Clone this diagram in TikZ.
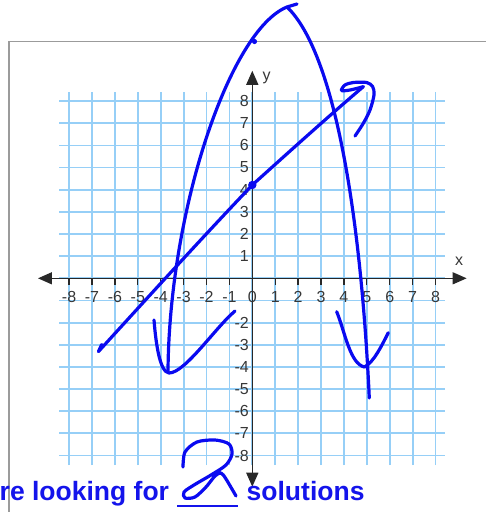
\documentclass[tikz,border=0pt]{standalone}
\usepackage{fontspec}
\setmainfont{Liberation Sans}
\usetikzlibrary{arrows.meta}
\definecolor{gridblue}{RGB}{150,207,247}
\definecolor{ink}{RGB}{10,10,240}
\definecolor{axisgray}{RGB}{40,40,40}
\definecolor{labgray}{RGB}{55,55,55}
\definecolor{framegray}{RGB}{155,155,155}
\definecolor{textblue}{RGB}{20,20,235}
\begin{document}
\begin{tikzpicture}[x=1pt,y=-1pt,
  pen/.style={draw=ink, line width=3.2pt, line cap=round, line join=round},
  gridline/.style={draw=gridblue, line width=1.8pt},
  axis/.style={draw=axisgray, fill=axisgray, line width=1.3pt},
  lab/.style={font=\fontsize{16}{18}\selectfont, text=labgray, inner sep=0pt},
  bigtext/.style={font=\bfseries\fontsize{26.5}{30}\selectfont, text=textblue, inner sep=0pt, anchor=base west}]
\useasboundingbox (0,0) rectangle (486,512);
\clip (0,0) rectangle (486,512);
\fill[white] (0,0) rectangle (486,512);
% frame
\draw[framegray, line width=1.5pt] (9,530) -- (9,41.7) -- (500,41.7);
% graph
\begin{scope}[shift={(252.3pt,-278.3pt)}, x=22.9pt, y=22.15pt]
  \foreach \i in {-8,...,8} {
    \draw[gridline] (\i,-8.43) -- (\i,8.43);
    \draw[gridline] (-8.43,\i) -- (8.43,\i);
  }
  \coordinate (xa) at (-9.36,0);
  \coordinate (xb) at (9.36,0);
  \coordinate (ya) at (0,-9.41);
  \coordinate (yb) at (0,9.37);
  \draw[axis, {Triangle[length=14pt,width=12pt]}-{Triangle[length=14pt,width=12pt]}] (xa) -- (xb);
  \draw[axis, {Triangle[length=14pt,width=12pt]}-{Triangle[length=14pt,width=12pt]}] (ya) -- (yb);
  \foreach \i in {-8,...,-1,1,2,...,8} {
    \draw[axis] (\i,0) -- (\i,-0.28);
  }
  \foreach \i in {-8,...,8} {
    \node[lab] (xl\i) at (\i,-0.83) {\i};
  }
  \foreach \i in {-8,...,-2,1,2,...,8} {
    \node[lab, anchor=east] (yl\i) at (-0.14,\i) {\i};
  }
  \node[lab] (xname) at (9.03,0.79) {x};
  \node[lab] (yname) at (0.63,9.03) {y};
\end{scope}
% handwritten strokes
% big parabola
\coordinate (pb) at (168,372);
\coordinate (pk) at (287,7);
\coordinate (pf) at (297,4);
\coordinate (pe) at (369.3,398);
\draw[pen] (pb) .. controls (169,210) and (230,30) .. (pk) -- (pf);
\draw[pen] (pk) .. controls (332,50) and (360,200) .. (pe);
\fill[ink] (254.5,41.5) circle (2.6);
% left check
\coordinate (la) at (154,320);
\coordinate (lm) at (169,373);
\coordinate (lz) at (235,311);
\draw[pen] (la) .. controls (156,345) and (160,372) .. (lm) .. controls (185,373) and (215,328) .. (lz);
% right check
\coordinate (ra) at (336.7,311.7);
\coordinate (rm) at (364.5,367);
\coordinate (rz) at (388.3,332.7);
\draw[pen] (ra) .. controls (345,332) and (350,364) .. (rm) .. controls (374,362) and (382,345) .. (rz);
% line with arrows
\coordinate (ba) at (98.5,351.5);
\coordinate (bh) at (101.7,344.5);
\coordinate (bm) at (252.3,185);
\coordinate (bt) at (363.3,86.7);
\draw[pen] (bh) -- (ba);
\draw[pen] (ba) .. controls (150,295) and (200,240) .. (bm) .. controls (290,151) and (330,115) .. (bt);
\draw[pen] plot[smooth, tension=0.5] coordinates {(363.3,86.7) (350,90) (341.5,90.5) (345,85) (353.3,82.5) (366.7,82.5) (372.7,86.7) (374,95) (370,110) (363.3,123.3) (355,136)};
\fill[ink] (bm) circle (4.2);
% bottom text
\node[bigtext] (t1) at (-0.5,500.5) {re looking for};
\node[bigtext] (t2) at (246.5,500.5) {solutions};
\draw[textblue, line width=2pt] (177,505.5) -- (238,505.5);
% handwritten 2
\draw[pen] plot[smooth, tension=0.5] coordinates {(183,467) (185,452) (197,442) (215,440) (229,444) (232,454) (226,465) (211,475) (194,485) (184,492) (185,498) (195,497) (206,487) (215,476) (221,473) (226,479) (236,496)};
\end{tikzpicture}
\end{document}
